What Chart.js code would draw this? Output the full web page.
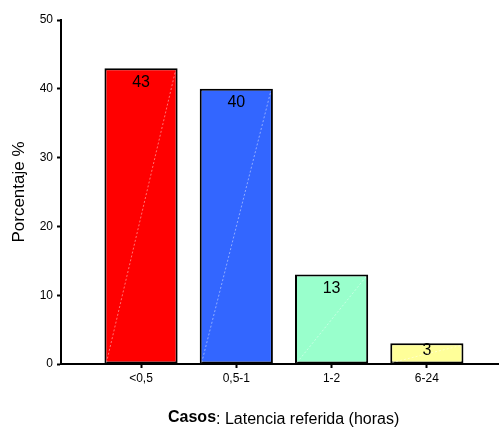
<!DOCTYPE html>
<html>
<head>
<meta charset="utf-8">
<script src="https://cdn.jsdelivr.net/npm/chart.js@4/dist/chart.umd.min.js"></script>
<style>
  html, body { margin: 0; padding: 0; background: #ffffff; }
  #wrap { width: 499px; height: 430px; }
</style>
</head>
<body>
<div id="wrap"><canvas id="c" width="499" height="430"></canvas></div>
<script>
// Latency categories (hours) and share of cases (%)
const categories = ['<0,5', '0,5-1', '1-2', '6-24'];
const percentages = [43, 40, 13, 3];
const barColors = ['#FF0000', '#3366FF', '#99FFCC', '#FFFF99'];
const yTicks = [0, 10, 20, 30, 40, 50];

const FONT = "'Liberation Sans', Arial, sans-serif";

// Value labels inside the top of each bar
const valueLabels = {
  id: 'valueLabels',
  afterDatasetsDraw(chart) {
    const ctx = chart.ctx;
    const meta = chart.getDatasetMeta(0);
    ctx.save();
    ctx.font = '16px ' + FONT;
    ctx.fillStyle = '#000000';
    ctx.textAlign = 'center';
    ctx.textBaseline = 'middle';
    meta.data.forEach((bar, i) => {
      const y = Math.min(bar.y + 14, bar.base - 13);
      ctx.fillText(String(percentages[i]), bar.x, y);
    });
    ctx.restore();
  }
};

// Faint diagonal stroke across each bar, bottom-left to top-right
const barDiagonals = {
  id: 'barDiagonals',
  afterDatasetsDraw(chart) {
    const ctx = chart.ctx;
    const meta = chart.getDatasetMeta(0);
    ctx.save();
    ctx.strokeStyle = 'rgba(255,255,255,0.45)';
    ctx.lineWidth = 1;
    ctx.setLineDash([2, 2]);
    meta.data.forEach((bar) => {
      const half = bar.width / 2 - 2;
      ctx.beginPath();
      ctx.moveTo(bar.x - half, bar.base - 1);
      ctx.lineTo(bar.x + half, bar.y + 2);
      ctx.stroke();
    });
    ctx.restore();
  }
};

// Axis title with bold lead word
const xTitle = {
  id: 'xTitle',
  afterDraw(chart) {
    const ctx = chart.ctx;
    ctx.save();
    ctx.fillStyle = '#000000';
    ctx.textBaseline = 'alphabetic';
    ctx.textAlign = 'left';
    const x0 = 168;
    const yBase = 424;
    ctx.font = 'bold 16px ' + FONT;
    ctx.fillText('Casos', x0, yBase - 2);
    const w = ctx.measureText('Casos').width;
    ctx.font = '16px ' + FONT;
    ctx.fillText(': Latencia referida (horas)', x0 + w, yBase);
    ctx.restore();
  }
};

new Chart(document.getElementById('c'), {
  type: 'bar',
  data: {
    datasets: [{
      data: percentages.map((v, i) => ({ x: i, y: v })),
      backgroundColor: barColors,
      borderColor: '#000000',
      borderWidth: 2,
      borderSkipped: false,
      barPercentage: 0.96,
      categoryPercentage: 0.8
    }]
  },
  options: {
    responsive: false,
    animation: false,
    devicePixelRatio: 1,
    layout: { padding: { top: 20, right: 0, bottom: 0, left: 0 } },
    plugins: {
      legend: { display: false },
      tooltip: { enabled: false }
    },
    scales: {
      x: {
        type: 'linear',
        offset: false,
        min: -0.84,
        max: 3.757,
        afterBuildTicks(scale) {
          scale.ticks = categories.map((c, i) => ({ value: i }));
        },
        afterFit(scale) { scale.height = 66; },
        ticks: {
          autoSkip: false,
          maxRotation: 0,
          padding: 3,
          color: '#000000',
          font: { family: FONT, size: 12 },
          callback: (v) => categories[v]
        },
        grid: {
          display: true,
          offset: false,
          drawOnChartArea: false,
          drawTicks: true,
          tickLength: 4,
          tickWidth: 2,
          tickColor: '#000000'
        },
        border: { display: true, color: '#000000', width: 2 }
      },
      y: {
        min: 0,
        max: 50,
        afterBuildTicks(scale) {
          scale.ticks = yTicks.map((v) => ({ value: v }));
        },
        afterFit(scale) { scale.width = 61; },
        ticks: {
          padding: 4,
          color: '#000000',
          font: { family: FONT, size: 12 }
        },
        grid: {
          display: true,
          drawOnChartArea: false,
          drawTicks: true,
          tickLength: 4,
          tickWidth: 2,
          tickColor: '#000000'
        },
        border: { display: true, color: '#000000', width: 2 },
        title: {
          display: true,
          text: 'Porcentaje %',
          color: '#000000',
          font: { family: FONT, size: 17 },
          padding: { top: 9, bottom: 0 }
        }
      }
    }
  },
  plugins: [valueLabels, barDiagonals, xTitle]
});
</script>
</body>
</html>
